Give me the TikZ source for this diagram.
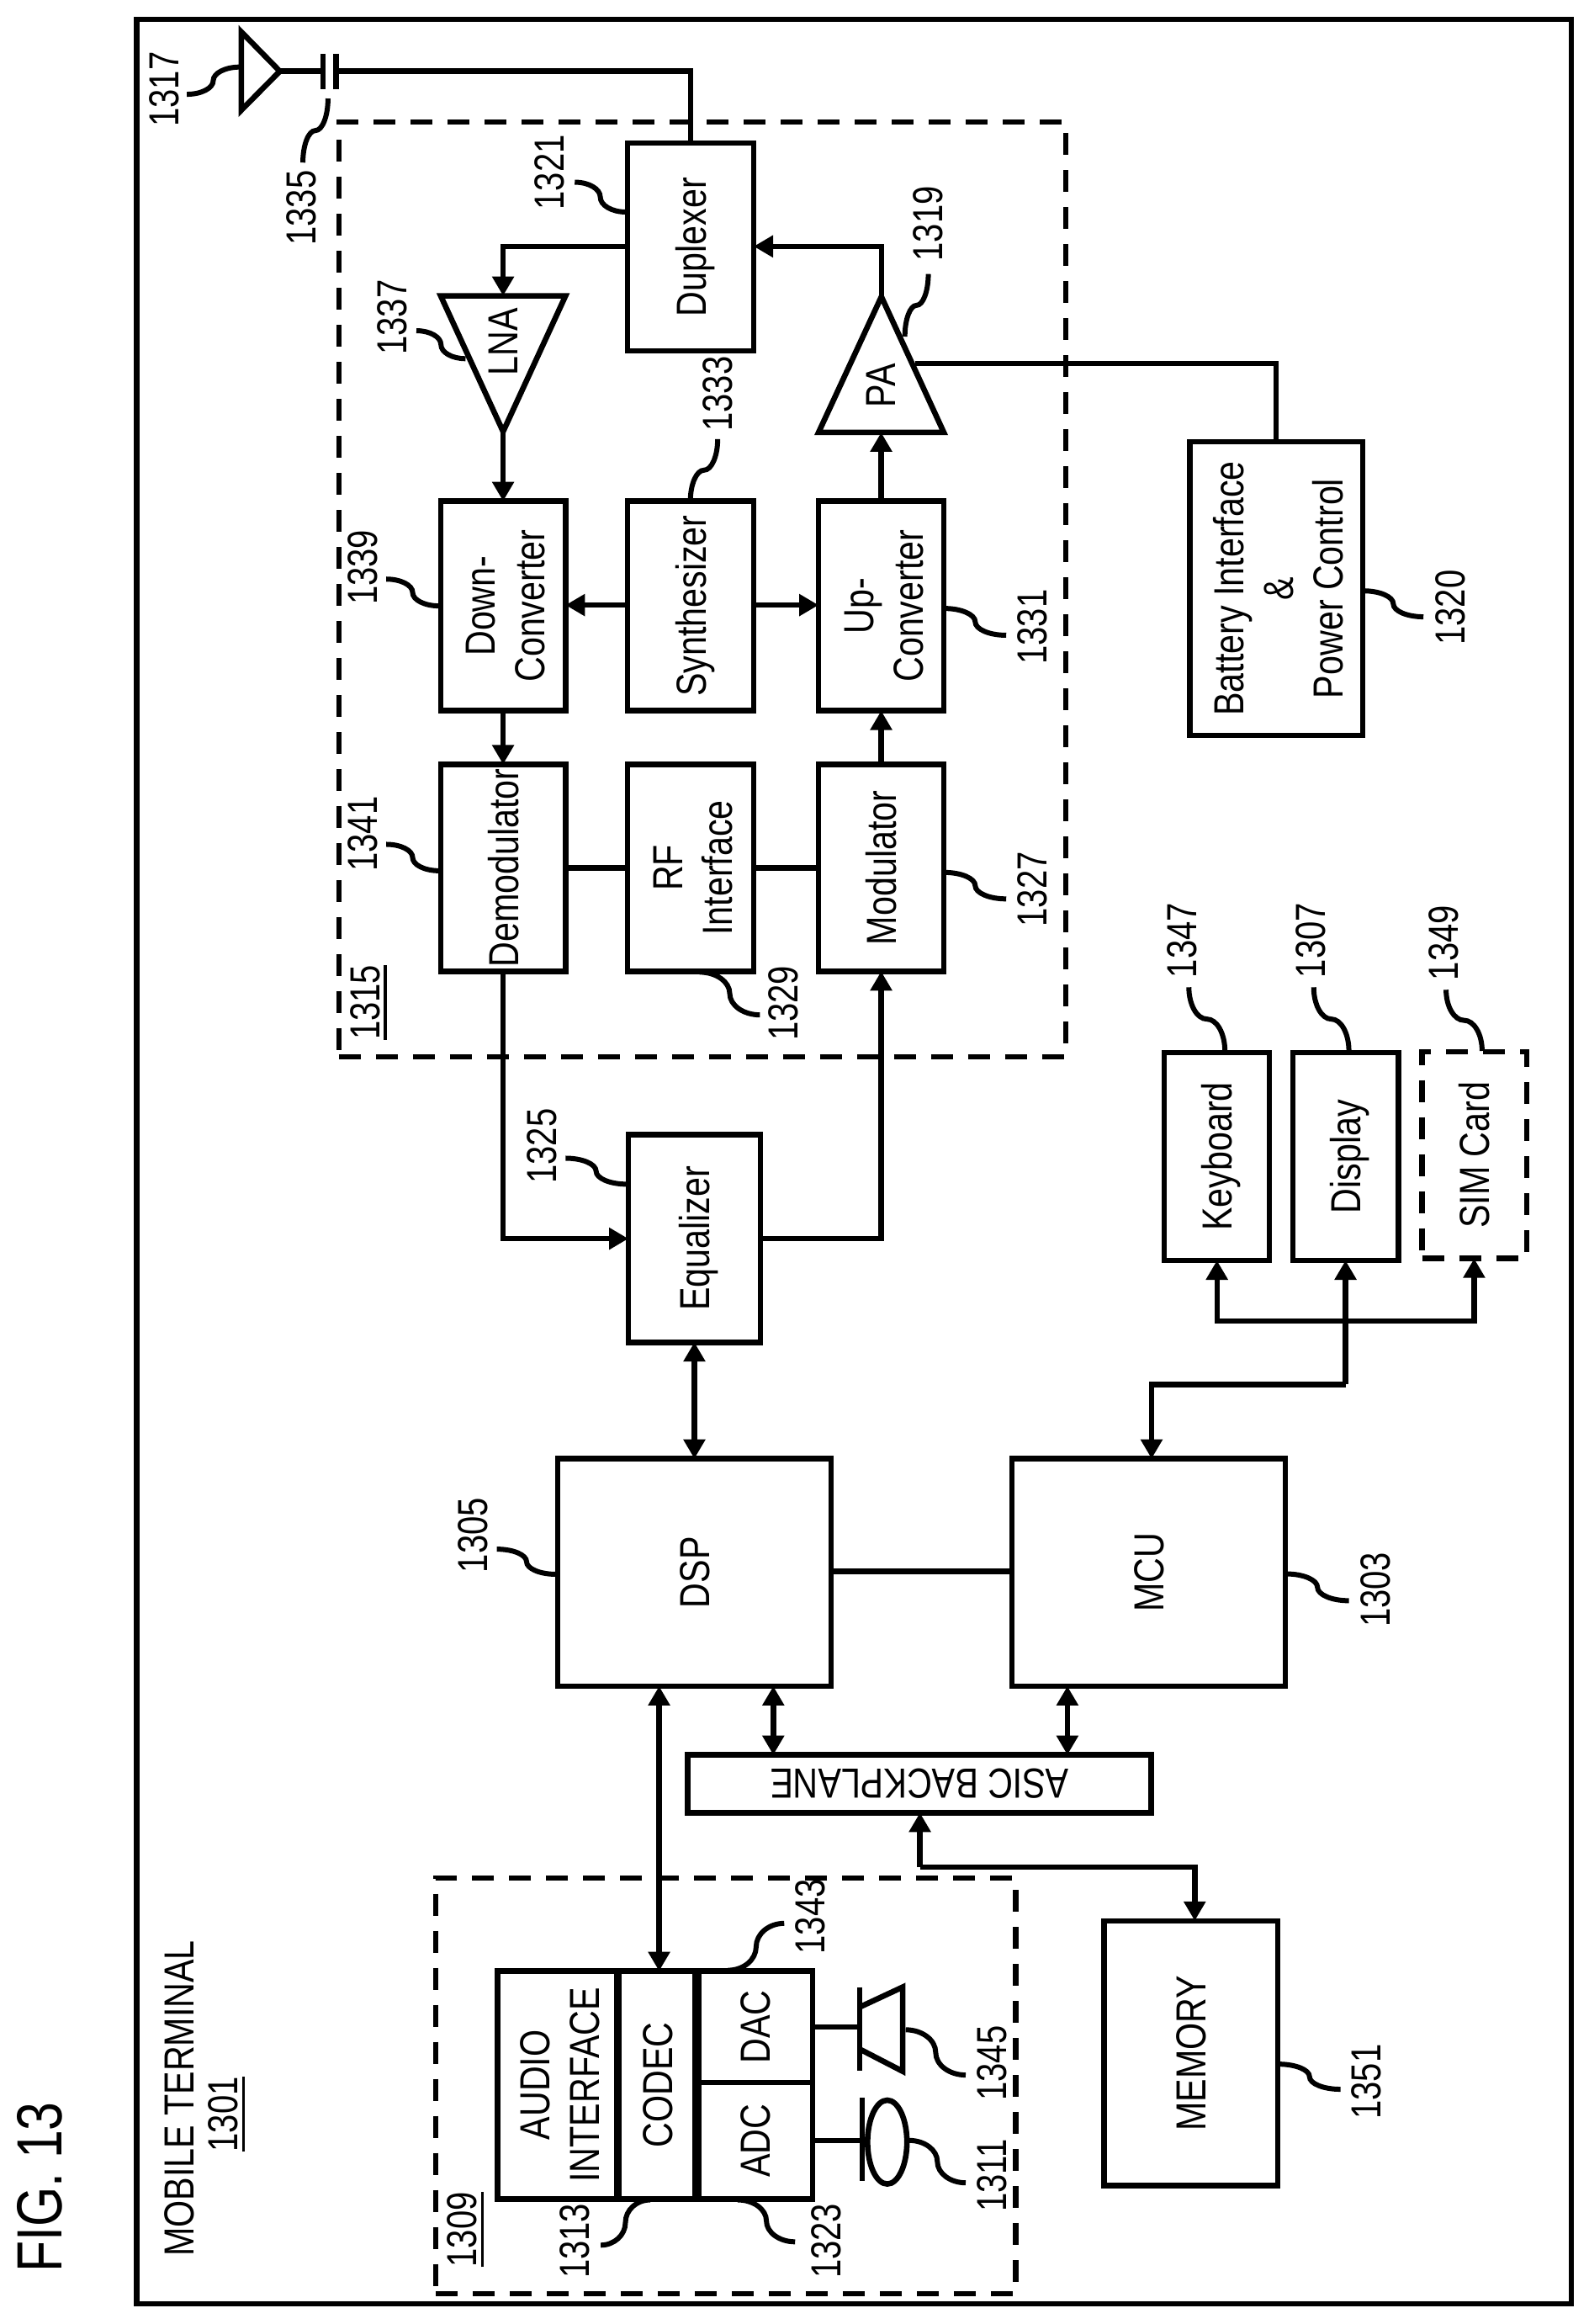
\documentclass[tikz,border=0pt]{standalone}
\usepackage{fontspec}
\setmainfont{Liberation Sans}
\newfontfamily\numfont[FakeStretch=0.8]{Liberation Sans}
\newfontfamily\boxfont[FakeStretch=0.825]{Liberation Sans}
\usetikzlibrary{arrows.meta,calc}
\tikzset{
  box/.style={draw=black,line width=3.3pt,fill=none,inner sep=0pt,outer sep=0pt,align=center,font=\boxfont\fontsize{25}{29.5}\selectfont},
  dbox/.style={box,dash pattern=on 13pt off 9pt},
  wire/.style={line width=3.2pt,draw=black},
  ar/.style={wire,-{Triangle[length=11.5pt,width=12.5pt]}},
  dar/.style={wire,{Triangle[length=11.5pt,width=12.5pt]}-{Triangle[length=11.5pt,width=12.5pt]}},
  ref/.style={inner sep=0pt,rotate=90,font=\numfont\fontsize{25}{27}\selectfont},
  captext/.style={inner sep=0pt,rotate=90,align=center,font=\boxfont\fontsize{25}{29}\selectfont},
  tritext/.style={inner sep=0pt,rotate=90,font=\boxfont\fontsize{25}{29}\selectfont},
  lead/.style={line width=3pt,draw=black},
  frameline/.style={draw=black,line width=3.2pt},
  sym/.style={line width=3.3pt,draw=black,line join=miter},
}
\newcommand\bx[6][]{\node[box,#1,minimum width={(#4-#2)*0.498pt},minimum height={(#5-#3)*0.498pt}] (#6) at ({(#2+#4)/2},{(#3+#5)/2})}
\newcommand\ulin[1]{\setbox0=\hbox{#1}\rlap{\rule[-4.2pt]{\wd0}{1.7pt}}\box0}
% rotated one-line text, centred on its capitals
\newcommand\rt[1]{\rotatebox{90}{\raisebox{0pt}[18pt][0pt]{#1}}}
% rotated several-line text, shifted so that its capitals are centred
\newcommand\twol[2]{\hspace*{8.5pt}\rotatebox{90}{\begin{tabular}{@{}c@{}}#1\\#2\end{tabular}}}
% S-shaped reference leads: tangent horizontal at the ends
\newcommand\wigh[4]{\draw[lead] (#1,#2) .. controls ({#1+.275*(#3-#1)},#2) and ({(#1+#3)/2},{#2+.225*(#4-#2)}) .. ({(#1+#3)/2},{(#2+#4)/2}) .. controls ({(#1+#3)/2},{(#2+#4)/2+.275*(#4-#2)}) and ({#3-.275*(#3-#1)},#4) .. (#3,#4);}
% tangent vertical at the ends
\newcommand\wigv[4]{\draw[lead] (#1,#2) .. controls (#1,{#2+.275*(#4-#2)}) and ({#1+.225*(#3-#1)},{(#2+#4)/2}) .. ({(#1+#3)/2},{(#2+#4)/2}) .. controls ({(#1+#3)/2+.275*(#3-#1)},{(#2+#4)/2}) and (#3,{#4-.275*(#4-#2)}) .. (#3,#4);}
\begin{document}
\begin{tikzpicture}[x=0.498pt,y=-0.498pt]
\useasboundingbox (0,0) rectangle (1895.6,2773.1);
\draw[frameline] (163,23) rectangle (1875.5,2749);
\node[captext,font=\numfont\fontsize{38}{40}\selectfont] (fig) at (48,2610) {FIG. 13};
\node[captext] (mt) at (214,2504) {MOBILE TERMINAL};
\node[captext,font=\numfont\fontsize{25}{29}\selectfont] (mtn) at (270.7,2523) {\ulin{1301}};
% RF dashed
\bx[dbox]{404.6}{145.6}{1272}{1261}{rf}{};
\node[ref] (l1315) at (440,1196) {\ulin{1315}};
% blocks
\bx{749}{170.7}{899.6}{418.7}{dup}{\rt{Duplexer}};
\coordinate (lnaL) at (526,353); \coordinate (lnaR) at (675,353); \coordinate (lnaA) at (600.5,515);
\draw[sym] (lnaL) -- (lnaR) -- (lnaA) -- cycle;
\node[tritext] (lna) at (600.5,408) {LNA};
\coordinate (paL) at (977,516); \coordinate (paR) at (1126.5,516); \coordinate (paA) at (1052,354);
\draw[sym] (paL) -- (paR) -- (paA) -- cycle;
\node[tritext] (pa) at (1052,460) {PA};
\bx{526}{598}{675}{848}{down}{\twol{Down-}{Converter}};
\bx{749}{598}{899.6}{848}{syn}{\rt{Synthesizer}};
\bx{977}{598}{1126.5}{848}{up}{\twol{Up-}{Converter}};
\bx{526}{912}{675}{1159}{dem}{\rt{Demodulator}};
\bx{749}{912}{899.6}{1159}{rfi}{\twol{RF}{Interface}};
\bx{977}{912}{1126.5}{1159}{mod}{\rt{Modulator}};
\bx{750}{1354}{907.6}{1601.6}{eq}{\rt{Equalizer}};
\bx{1420}{527}{1626.5}{877.5}{bat}{\hspace*{8.5pt}\rotatebox{90}{\begin{tabular}{@{}c@{}}Battery Interface\\\&\\Power Control\end{tabular}}};
\bx{1389.6}{1256}{1515}{1504}{key}{\rt{Keyboard}};
\bx{1543}{1256}{1669}{1504}{dis}{\rt{Display}};
\bx[dbox]{1697.5}{1255}{1822.3}{1501.7}{sim}{\rt{SIM Card}};
\bx{665.6}{1740.6}{992}{2012}{dsp}{\rt{DSP}};
\bx{1208}{1740.6}{1534}{2012}{mcu}{\rt{MCU}};
\bx[line width=3.7pt]{821}{2094}{1374}{2163}{asic}{\rotatebox{180}{\raisebox{0pt}[18pt][0pt]{ASIC BACKPLANE}}};
\bx{1318}{2292}{1525}{2608}{mem}{\rt{MEMORY}};
% audio
\bx[dbox]{520}{2241}{1212.5}{2737}{aud}{};
\node[ref] (l1309) at (555.6,2660.5) {\ulin{1309}};
\bx{594}{2352}{737}{2623.7}{ai}{\twol{AUDIO}{INTERFACE}};
\bx{737}{2352}{832}{2623.7}{codec}{\rt{CODEC}};
\bx{832}{2352}{970}{2485}{dac}{\rt{DAC}};
\bx{832}{2485}{970}{2623.7}{adc}{\rt{ADC}};
\draw[line width=4.5pt] (codec.north west) -- (codec.south west);
\draw[line width=5.8pt] (codec.north east) -- (codec.south east);
% antenna + capacitor
\coordinate (antT) at (288,38); \coordinate (antB) at (288,131.5); \coordinate (antA) at (334,85);
\draw[sym] (antT) -- (antA) -- (antB) -- cycle;
\coordinate (capA) at (385.5,85); \coordinate (capB) at (401,85);
\draw[sym] (385.5,64) -- (capA) -- (385.5,106);
\draw[sym] (401,64) -- (capB) -- (401,106);
\draw[wire] (antA) -- (capA);
\draw[wire] (capB) -| (dup.north);
% rf connectors
\draw[ar] (dup.west |- 0,294) -| (lnaL -| down.north);
\draw[ar] (lnaA) -- (down.north);
\draw[ar] (paA) |- (dup.east |- 0,294);
\draw[ar] (up.north) -- ($(paL)!.5!(paR)$);
\draw[wire] (1092,434) -| (bat.north);
\draw[ar] (syn.west |- 0,722) -- (down.east |- 0,722);
\draw[ar] (syn.east |- 0,722) -- (up.west |- 0,722);
\draw[ar] (down.south) -- (dem.north);
\draw[ar] (mod.north) -- (up.south);
\draw[wire] (dem.east) -- (rfi.west);
\draw[wire] (rfi.east) -- (mod.west);
\draw[ar] (dem.south) |- (eq.west |- 0,1478);
\draw[ar] (eq.east |- 0,1478) -| (mod.south);
\draw[dar] (eq.south) -- (dsp.north -| eq.south);
\draw[wire] (dsp.east |- 0,1875) -- (mcu.west |- 0,1875);
\coordinate (busA) at (1606,1652); \coordinate (busB) at (1606,1576);
\draw[ar] (busB) -- (dis.south);
\draw[wire] (busA) -- (busB);
\draw[ar] (busA) -| (1374.5,1740.6);
\draw[ar] (busB) -| (1452.5,1504);
\draw[ar] (busB) -| (1759.5,1501.7);
\draw[dar] (923,2012) -- (923,2094);
\draw[dar] (1274,2012) -- (1274,2094);
\draw[dar] (786.7,2012) -- (786.7,2352);
\coordinate (memT) at (1098,2228);
\draw[ar] (memT) -- (1098,2163);
\draw[ar] (memT) -| (1426,2292);
% speaker, mic
\coordinate (spk) at (1026,2418.7);
\draw[wire] (dac.east |- spk) -- (spk);
\draw[sym] (1026,2371) -- (1026,2471);
\draw[sym] (1026,2395) -- (1077.5,2371) -- (1077.5,2471.6) -- (1026,2445);
\coordinate (mic) at (1029,2554);
\draw[wire] (adc.east |- mic) -- (mic);
\draw[sym] (1029,2503) -- (1029,2602.5);
\draw[sym] (1059,2556) ellipse [x radius=23.5,y radius=50];
% reference labels
\node[ref] (l1317) at (196,106.5) {1317};
\wigh{286}{80}{223}{112.5}
\node[ref] (l1335) at (359.5,248) {1335};
\wigv{391.5}{117.5}{361.5}{194}
\node[ref] (l1321) at (655.6,205.8) {1321};
\wigh{747}{253}{686}{217.4}
\node[ref] (l1319) at (1108,267) {1319};
\wigv{1080}{401.6}{1108}{327}
\node[ref] (l1337) at (468,378.5) {1337};
\wigh{555.7}{428}{497}{394.6}
\node[ref] (l1333) at (857,470) {1333};
\wigv{824}{598}{856.6}{524}
\node[ref] (l1339) at (433,677) {1339};
\wigh{524}{723}{461}{691}
\node[ref] (l1341) at (433,995) {1341};
\wigh{524}{1039}{461}{1007.5}
\node[ref] (l1329) at (935,1197) {1329};
\wigh{835}{1160}{907}{1211}
\node[ref] (l1327) at (1232,1061) {1327};
\wigh{1127}{1041}{1201}{1072.6}
\node[ref] (l1331) at (1232,748) {1331};
\wigh{1127}{726}{1201}{758}
\node[ref] (l1320) at (1731,725) {1320};
\wigh{1627}{705}{1699}{736}
\node[ref] (l1325) at (647,1367.5) {1325};
\wigh{748}{1413}{675}{1382}
\node[ref] (l1347) at (1411,1122) {1347};
\wigv{1462}{1254}{1419}{1178}
\node[ref] (l1307) at (1565,1122) {1307};
\wigv{1610}{1254}{1568}{1178}
\node[ref] (l1349) at (1723,1125) {1349};
\wigv{1769}{1254}{1726}{1181}
\node[ref] (l1305) at (565,1832) {1305};
\wigh{664}{1878.5}{593}{1848.5}
\node[ref] (l1303) at (1642,1897) {1303};
\wigh{1535}{1878}{1610}{1910}
\node[ref] (l1351) at (1631,2484) {1351};
\wigh{1526}{2463}{1600}{2493}
\node[ref] (l1343) at (967,2287) {1343};
\wigh{869}{2351}{936}{2295}
\node[ref] (l1345) at (1184,2462) {1345};
\wigh{1081}{2422}{1152.6}{2476}
\node[ref] (l1311) at (1184,2596) {1311};
\wigh{1085}{2554}{1152.6}{2604.6}
\node[ref] (l1313) at (686,2674) {1313};
\wigh{776}{2625}{717}{2679}
\node[ref] (l1323) at (986,2674) {1323};
\wigh{880.5}{2625}{949}{2675}
\end{tikzpicture}
\end{document}
